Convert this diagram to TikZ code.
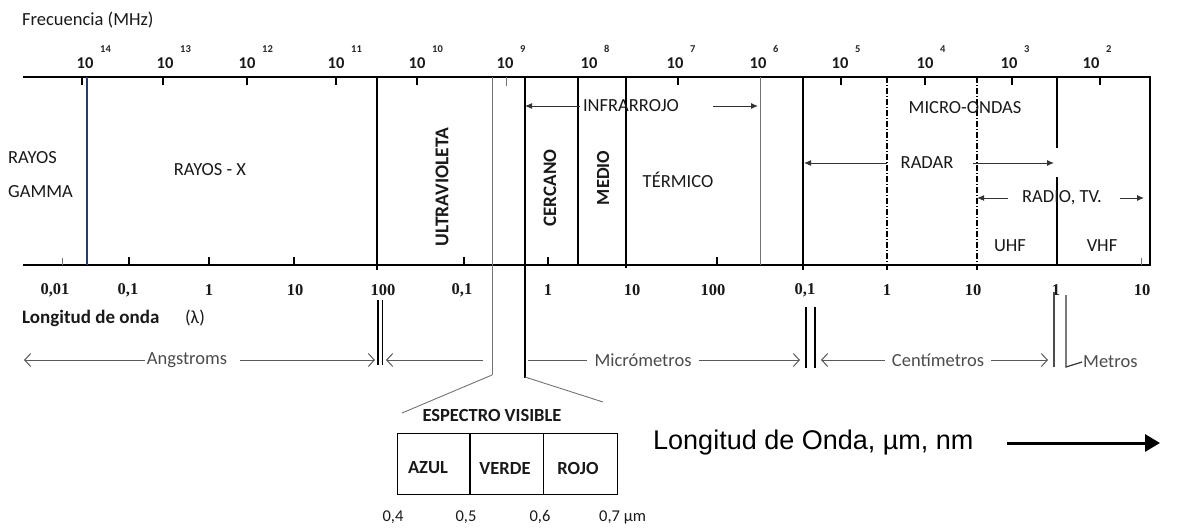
\documentclass[tikz,border=0pt]{standalone}
\usepackage{fontspec}
\setmainfont{Carlito}
\newfontfamily\numfont{Liberation Serif}
\newfontfamily\arialfont{Liberation Sans}
\usetikzlibrary{arrows.meta}
\begin{document}
\begin{tikzpicture}[x=1pt,y=-1pt,
  txt/.style={font=\fontsize{18.5}{20}\selectfont, text=black!90, inner sep=1pt},
  btxt/.style={txt, font=\fontsize{18.5}{20}\selectfont\bfseries},
  toplab/.style={font=\fontsize{16.5}{18}\selectfont\bfseries, text=black!90, inner sep=0pt},
  suplab/.style={font=\fontsize{10.5}{11}\selectfont\bfseries, text=black!85, inner sep=0pt},
  numlab/.style={font=\numfont\fontsize{16.5}{18}\selectfont\bfseries, text=black!90, inner sep=0pt},
  graytxt/.style={font=\fontsize{18.5}{20}\selectfont, text=black!70, inner sep=7pt},
  axis/.style={line width=2.6pt},
  bar/.style={line width=2pt},
  thinl/.style={line width=0.9pt, black!55},
  tk/.style={line width=2pt},
  ddash/.style={line width=1.1pt, dash pattern=on 6pt off 2pt on 1pt off 2pt},
  smallarr/.style={-{Latex[length=7pt,width=6pt]}, line width=1pt, black!80},
  openarr/.style={-{Straight Barb[length=6pt,width=13pt,line width=1pt]}, line width=1pt, black!65}
]
\useasboundingbox (0,0) rectangle (1177,527);

% axes
\coordinate (tl) at (23,77);
\coordinate (tr) at (1150,77);
\coordinate (bl) at (23,265);
\coordinate (br) at (1150,265);
\draw[axis] (tl) -- (tr) -- (br) -- (bl);

% top ticks
\foreach \x in {82,163,247,336,417,678,841,925,1012,1100}
  \draw[tk] (\x,77) -- (\x,85);
\draw[thinl] (506,77) -- (506,86);
% bottom ticks
\foreach \x in {129,209,294,464,548,717}
  \draw[tk] (\x,265) -- (\x,257);
\draw[thinl] (62,265) -- (62,258);
\draw[thinl] (1141,265) -- (1141,258);

% vertical region lines
\draw[line width=1.2pt, color={rgb,255:red,40;green,60;blue,100}] (87,77) -- (87,265);
\draw[bar] (377,77) -- (377,270);
\draw[thinl] (492,77) -- (492,375);
\draw[bar] (525,77) -- (525,378);
\draw[bar] (578,77) -- (578,265);
\draw[bar] (626,77) -- (626,268);
\draw[thinl] (760,77) -- (760,265);
\draw[bar] (803,77) -- (803,270);
\draw[ddash] (887,77) -- (887,270);
\draw[ddash] (977,77) -- (977,270);
\draw[bar] (1057,77) -- (1057,148);
\draw[bar] (1057,177) -- (1057,265);

% frequency labels
\node[txt, anchor=west, font=\fontsize{18.5}{20}\selectfont] (frec) at (21,20) {Frecuencia (MHz)};
\foreach \x/\e in {85/14,165/13,247/12,336/11,417/10,505/9,589/8,675/7,758/6,840/5,925/4,1009/3,1091/2} {
  \node[toplab] (f\e) at (\x,63) {10};
  \node[suplab, anchor=west] (s\e) at (\x+15,49) {\e};
}

% wavelength labels
\node[numlab] (w1) at (55,290) {0,01};
\node[numlab] (w2) at (128,290) {0,1};
\node[numlab] (w3) at (209,290) {1};
\node[numlab] (w4) at (295,290) {10};
\node[numlab] (w5) at (383,290) {100};
\node[numlab] (w6) at (462,290) {0,1};
\node[numlab] (w7) at (548,290) {1};
\node[numlab] (w8) at (632,290) {10};
\node[numlab] (w9) at (713,290) {100};
\node[numlab] (w10) at (805,290) {0,1};
\node[numlab] (w11) at (887,290) {1};
\node[numlab] (w12) at (973,290) {10};
\node[numlab] (w13) at (1056,290) {1};
\node[numlab] (w14) at (1142,290) {10};
\node[txt, anchor=west, font=\fontsize{19}{20}\selectfont\bfseries] (long) at (21,318) {Longitud de onda};
\node[txt] (lam) at (195,318) {(λ)};

% region labels
\node[txt, anchor=west] (ray1) at (7,158) {RAYOS};
\node[txt, anchor=west] (ray2) at (7,192) {GAMMA};
\node[txt] (rx) at (210,170) {RAYOS - X};
\node[btxt, rotate=90, font=\fontsize{19.5}{20}\selectfont\bfseries] (uv) at (442,187) {ULTRAVIOLETA};
\node[txt, rotate=90, font=\fontsize{19}{20}\selectfont\bfseries] (cerc) at (550,188) {CERCANO};
\node[btxt, rotate=90] (medio) at (603,178) {MEDIO};
\node[txt] (term) at (678,180) {TÉRMICO};
\node[txt, inner sep=3pt] (infra) at (631,106) {INFRARROJO};
\node[txt] (micro) at (965,108) {MICRO-ONDAS};
\node[txt, inner sep=3pt] (radar) at (927,163) {RADAR};
\node[txt] (radio) at (1062,198) {RADIO, TV.};
\node[txt] (uhf) at (1010,246) {UHF};
\node[txt] (vhf) at (1102,246) {VHF};

% arrows in band
\coordinate (irL) at (525,106);
\coordinate (irA) at (713,106);
\coordinate (irR) at (758,106);
\draw[smallarr] (infra.west) -- (irL);
\draw[smallarr] (irA) -- (irR);
\coordinate (rdL) at (804,163);
\coordinate (rdA) at (973,163);
\coordinate (rdR) at (1054,163);
\coordinate (rdB) at (887,163);
\draw[smallarr] (rdB) -- (rdL);
\draw[smallarr] (rdA) -- (rdR);
\coordinate (rtA) at (1008,198);
\coordinate (rtL) at (977,198);
\coordinate (rtB) at (1120,198);
\coordinate (rtR) at (1144,198);
\draw[smallarr] (rtA) -- (rtL);
\draw[smallarr] (rtB) -- (rtR);

% lower unit row
\node[graytxt, inner sep=2pt] (ang) at (187,360) {Angstroms};
\node[graytxt] (mic) at (643,360) {Micrómetros};
\node[graytxt] (cen) at (938,360) {Centímetros};
\node[graytxt, anchor=west, inner sep=1pt] (met) at (1082,362) {Metros};
\coordinate (a1) at (24,360);
\coordinate (a3) at (240,360);
\coordinate (a4) at (375,360);
\draw[openarr] (ang.west) -- (a1);
\draw[openarr] (a3) -- (a4);
\coordinate (m0) at (483,360);
\coordinate (m1) at (386,360);
\draw[openarr] (m0) -- (m1);
\coordinate (m2) at (528,360);
\draw[line width=1pt, black!65] (m2) -- (mic.west);
\coordinate (m3) at (800,360);
\draw[openarr] (mic.east) -- (m3);
\coordinate (c1) at (821,360);
\draw[openarr] (cen.west) -- (c1);
\coordinate (c2) at (1048,360);
\draw[openarr] (cen.east) -- (c2);

% separator bars
\draw[line width=1.8pt] (378,300) -- (378,365);
\draw[line width=1.8pt] (382.5,300) -- (382.5,365);
\draw[line width=1.5pt] (806,307) -- (806,368);
\draw[line width=1.5pt] (815,307) -- (815,368);
\draw[line width=1.2pt, black!70] (1054,292) -- (1054,367);
\draw[line width=1.2pt, black!80] (1066,295) -- (1066,367) -- (met.west);

% visible spectrum
\coordinate (vl) at (402,413);
\coordinate (vr) at (603,402);
\draw[thinl] (492,375) -- (vl);
\draw[thinl] (525,377) -- (vr);
\node[btxt] (esp) at (492,415) {ESPECTRO VISIBLE};
\node[draw, line width=1pt, minimum width=220pt, minimum height=61pt, inner sep=0pt] (vbox) at (507,463.5) {};
\draw[line width=1.8pt] (470,433) -- (470,494);
\draw[line width=0.9pt] (543,433) -- (543,494);
\node[btxt] (azul) at (428,468) {AZUL};
\node[btxt] (verde) at (505,468) {VERDE};
\node[btxt] (rojo) at (578,468) {ROJO};
\node[txt, font=\fontsize{16.5}{18}\selectfont] (v4) at (393,517) {0,4};
\node[txt, font=\fontsize{16.5}{18}\selectfont] (v5) at (466,517) {0,5};
\node[txt, font=\fontsize{16.5}{18}\selectfont] (v6) at (540,517) {0,6};
\node[txt, font=\fontsize{16.5}{18}\selectfont, anchor=west] (v7) at (598,517) {0,7 µm};

% big label
\node[font=\arialfont\fontsize{27}{28}\selectfont, anchor=west, inner sep=0pt] (lo) at (653,443) {Longitud de Onda, µm, nm};
\coordinate (loA) at (1007,443);
\coordinate (loB) at (1160,443);
\draw[line width=3pt, -{Triangle[length=15pt,width=17pt]}] (loA) -- (loB);
\end{tikzpicture}
\end{document}
